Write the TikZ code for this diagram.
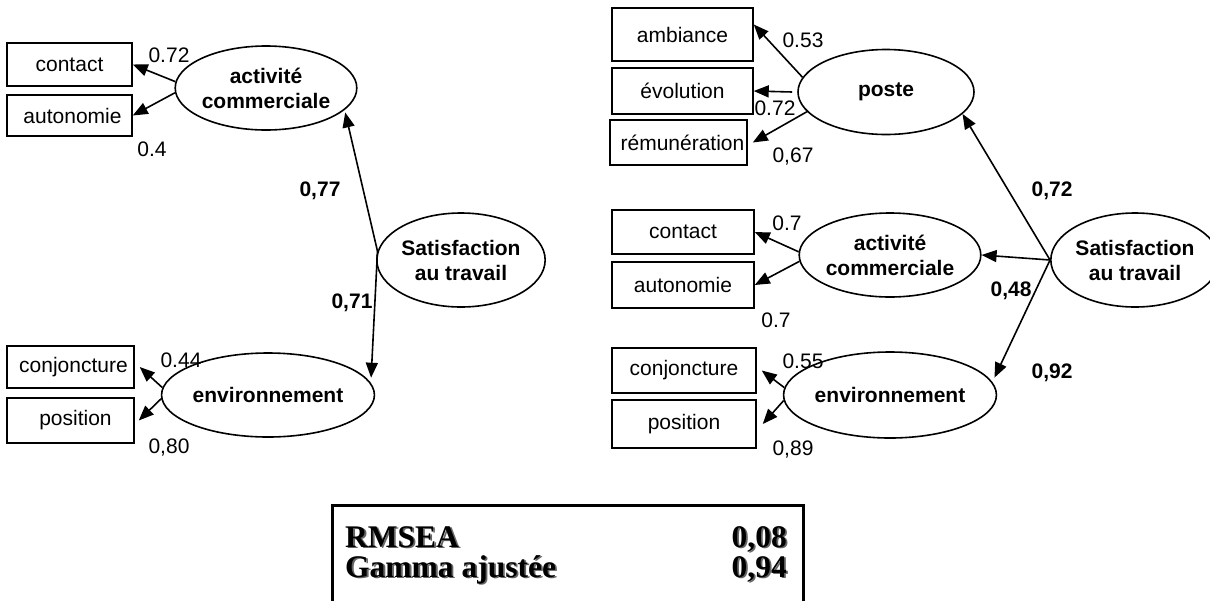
\documentclass[tikz,border=0pt]{standalone}
\usepackage{fontspec}
\setmainfont{Liberation Sans}
\newfontfamily\tabfont{Liberation Serif}
\usetikzlibrary{shapes.geometric,arrows.meta}
\tikzset{
  obs/.style={draw, line width=1.5pt, inner sep=0pt, font=\fontsize{21}{25}\selectfont},
  lat/.style={draw, ellipse, line width=1.6pt, inner sep=0pt, align=center, font=\fontsize{21}{25}\selectfont\bfseries},
  coef/.style={anchor=base, inner sep=0pt, font=\fontsize{21}{25}\selectfont},
  bcoef/.style={anchor=base, inner sep=0pt, font=\fontsize{21}{25}\selectfont\bfseries},
  arr/.style={line width=1.6pt, -{Triangle[length=15pt,width=12pt]}},
  tabtxt/.style={inner sep=0pt, font=\tabfont\fontsize{31.5}{36}\selectfont\bfseries},
}
\begin{document}
\begin{tikzpicture}[x=1pt,y=-1pt]
\useasboundingbox (0,0) rectangle (1210,600);

% ---------- left model ----------
\node[obs, minimum width=125, minimum height=43] (lcon) at (69.5,64.5) {contact};
\node[obs, minimum width=125, minimum height=41] (laut) at (69.5,115.5) {\hspace{6pt}autonomie};
\node[obs, minimum width=127, minimum height=42] (lcnj) at (70.5,367) {\hspace{6pt}conjoncture};
\node[obs, minimum width=127, minimum height=45] (lpos) at (70.5,420.5) {\hspace{10pt}position};

\node[lat, minimum width=172, minimum height=84] (lact) at (266,88) {activité\\commerciale};
\node[lat, minimum width=172, minimum height=84] (lenv) at (268,395) {environnement};
\node[lat, minimum width=152, minimum height=94] (lsat) at (461,260) {Satisfaction\\au travail};

\draw[arr] (lact.176.7) -- (lcon.east);
\draw[arr] (lact.183) -- (laut.east);
\draw[arr] (lenv.176) -- ([xshift=5pt]lcnj.east);
\draw[arr] (lenv.182) -- ([xshift=4pt]lpos.east);
\draw[arr] (lsat.174) -- ([xshift=4pt]lact.342);
\draw[arr] (lsat.174) -- ([xshift=5pt]lenv.10);

\node[coef] (l1) at (169,62) {0.72};
\node[coef] (l2) at (152,156) {0.4};
\node[coef] (l3) at (181,367) {0.44};
\node[coef] (l4) at (169,453) {0,80};
\node[bcoef] (l5) at (320,196) {0,77};
\node[bcoef] (l6) at (352,308) {0,71};

% ---------- right model ----------
\node[obs, minimum width=141, minimum height=53] (ramb) at (682.5,34.5) {ambiance};
\node[obs, minimum width=141, minimum height=46] (revo) at (682.5,91) {évolution};
\node[obs, minimum width=137, minimum height=45] (rrem) at (678.5,142.5) {\hspace{8pt}rémunération};
\node[obs, minimum width=142, minimum height=44] (rcon) at (683,232) {contact};
\node[obs, minimum width=142, minimum height=46] (raut) at (683,285) {autonomie};
\node[obs, minimum width=144, minimum height=45] (rcnj) at (684,370.5) {conjoncture};
\node[obs, minimum width=144, minimum height=48] (rpos) at (684,424) {position};

\node[lat, minimum width=176, minimum height=85] (rpst) at (886,92) {poste};
\node[lat, minimum width=174, minimum height=84] (ract) at (890,255) {activité\\commerciale};
\node[lat, minimum width=174, minimum height=86] (renv) at (890,395) {environnement};
\node[lat, minimum width=146, minimum height=94] (rsat) at (1135,260) {Satisfaction\\au travail};

\draw[arr] (rpst.170) -- (ramb.8);
\draw[arr] ([xshift=-5pt]rpst.west) -- (revo.east);
\draw[arr] (rpst.194) -- ([xshift=5pt]rrem.east);
\draw[arr] (ract.178) -- (rcon.east);
\draw[arr] (ract.184) -- (raut.east);
\draw[arr] (renv.176.7) -- ([xshift=5pt]rcnj.east);
\draw[arr] (renv.183.3) -- ([xshift=6pt]rpos.east);
\draw[arr] (rsat.west) -- (rpst.344);
\draw[arr] (rsat.west) -- (ract.east);
\draw[arr] (rsat.west) -- ([xshift=6pt]renv.10);

\node[coef] (r1) at (803,47) {0.53};
\node[coef] (r2) at (775,115) {0.72};
\node[coef] (r3) at (793,162) {0,67};
\node[coef] (r4) at (787,230) {0.7};
\node[coef] (r5) at (776,327) {0.7};
\node[coef] (r6) at (803,368) {0.55};
\node[coef] (r7) at (793,455) {0,89};
\node[bcoef] (r8) at (1052,196) {0,72};
\node[bcoef] (r9) at (1011,296) {0,48};
\node[bcoef] (r10) at (1052,378) {0,92};

% ---------- fit table ----------
\draw[line width=3pt] (332,602) -- (332,505) -- (803,505) -- (803,602);
\foreach \t/\x/\y/\a in {RMSEA/345/547/west, Gamma ajustée/345/577/west, 0{,}08/787/547/east, 0{,}94/787/577/east}{
  \node[tabtxt, anchor=base \a, text=black!60] at (\x+1.8,\y+1.8) {\t};
  \node[tabtxt, anchor=base \a] at (\x,\y) {\t};
}
\end{tikzpicture}
\end{document}
